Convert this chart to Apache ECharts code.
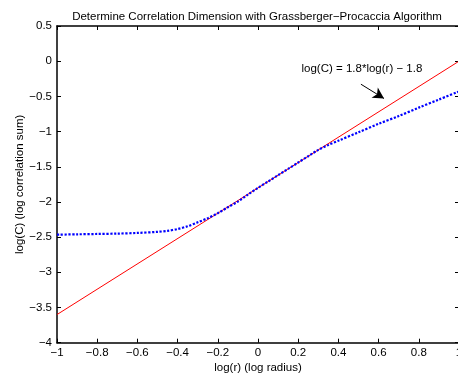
<!DOCTYPE html>
<html>
<head>
<meta charset="utf-8">
<script src="https://cdn.jsdelivr.net/npm/echarts@6/dist/echarts.min.js"></script>
<style>
html,body{margin:0;padding:0;background:#fff;}
#c{width:458px;height:375px;}
</style>
</head>
<body>
<div id="c"></div>
<script>
// ---- data ----
var titleText = 'Determine Correlation Dimension with Grassberger\u2212Procaccia Algorithm';
var xName = 'log(r) (log radius)';
var yName = 'log(C) (log correlation sum)';
var blueX = [-1, -0.9, -0.8, -0.7, -0.6, -0.5, -0.45, -0.4, -0.35, -0.3, -0.25, -0.2, -0.15, -0.1, -0.05, 0, 0.05, 0.1, 0.15, 0.2, 0.25, 0.3, 0.35, 0.4, 0.5, 0.6, 0.7, 0.8, 0.9, 1.0];
var blueY = [-2.465, -2.46, -2.455, -2.45, -2.44, -2.425, -2.41, -2.385, -2.345, -2.29, -2.23, -2.16, -2.075, -1.995, -1.895, -1.80, -1.71, -1.62, -1.53, -1.44, -1.35, -1.26, -1.19, -1.13, -1.01, -0.89, -0.78, -0.66, -0.545, -0.43];
var redX = [-1, 1];
var redY = [-3.6, 0];
var annotText = 'log(C) = 1.8*log(r) \u2212 1.8';
var annotTextPos = [0.517, -0.114];
var arrowFrom = [0.512, -0.327];
var arrowTo = [0.627, -0.53];
var xTicks = {min: -1, max: 1, interval: 0.2};
var yTicks = {min: -4, max: 0.5, interval: 0.5};

function zip(a, b) { return a.map(function (v, i) { return [v, b[i]]; }); }
function fmt(v) {
  var s = String(Math.round(v * 10) / 10);
  if (s === '-0') s = '0';
  return s.replace('-', '\u2212');
}

var FONT = 'Liberation Sans, Arial, sans-serif';
var FS = 11.5;
var axisLineStyle = {color: '#000', width: 1.5};
var chart = echarts.init(document.getElementById('c'), null, {renderer: 'canvas'});
chart.setOption({
  animation: false,
  backgroundColor: '#fff',
  title: {
    text: titleText, left: 252, top: 6, textAlign: 'center',
    textStyle: {fontFamily: FONT, fontSize: FS, fontWeight: 'normal', color: '#000'}
  },
  grid: {left: 57, top: 26, width: 402, height: 316.7, containLabel: false, outerBoundsMode: 'none'},
  xAxis: [{
    type: 'value', min: xTicks.min, max: xTicks.max, interval: xTicks.interval,
    position: 'bottom',
    name: xName, nameLocation: 'middle', nameGap: 19, nameMoveOverlap: false,
    nameTextStyle: {fontFamily: FONT, fontSize: FS, color: '#000'},
    axisLine: {show: true, onZero: false, lineStyle: axisLineStyle},
    axisTick: {show: true, inside: true, length: 4, lineStyle: {color: '#000', width: 1}},
    axisLabel: {fontFamily: FONT, fontSize: FS, color: '#000', margin: 4, formatter: fmt, showMaxLabel: true, showMinLabel: true},
    splitLine: {show: false}
  }, {
    type: 'value', min: xTicks.min, max: xTicks.max, interval: xTicks.interval,
    position: 'top',
    axisLine: {show: true, onZero: false, lineStyle: axisLineStyle},
    axisTick: {show: true, inside: true, length: 4, lineStyle: {color: '#000', width: 1}},
    axisLabel: {show: false},
    splitLine: {show: false}
  }],
  yAxis: [{
    type: 'value', min: yTicks.min, max: yTicks.max, interval: yTicks.interval,
    position: 'left',
    name: yName, nameLocation: 'middle', nameGap: 31, nameRotate: 90, nameMoveOverlap: false,
    nameTextStyle: {fontFamily: FONT, fontSize: FS, color: '#000'},
    axisLine: {show: true, onZero: false, lineStyle: axisLineStyle},
    axisTick: {show: true, inside: true, length: 4, lineStyle: {color: '#000', width: 1}},
    axisLabel: {fontFamily: FONT, fontSize: FS, color: '#000', margin: 5, formatter: fmt},
    splitLine: {show: false}
  }, {
    type: 'value', min: yTicks.min, max: yTicks.max, interval: yTicks.interval,
    position: 'right',
    axisLine: {show: true, onZero: false, lineStyle: axisLineStyle},
    axisTick: {show: true, inside: true, length: 4, lineStyle: {color: '#000', width: 1}},
    axisLabel: {show: false},
    splitLine: {show: false}
  }],
  series: [{
    type: 'line', data: zip(redX, redY), showSymbol: false, symbol: 'none',
    lineStyle: {color: '#ff0000', width: 1},
    markLine: {
      silent: true, symbol: ['none', 'arrow'], symbolSize: [9, 11],
      lineStyle: {color: '#000', width: 1, type: 'solid'},
      label: {show: false},
      data: [[{coord: arrowFrom}, {coord: arrowTo}]]
    },
    markPoint: {
      silent: true, symbol: 'circle', symbolSize: 1,
      itemStyle: {color: 'rgba(0,0,0,0)'},
      label: {show: true, formatter: annotText, position: 'inside', fontFamily: FONT, fontSize: FS, color: '#000'},
      data: [{coord: annotTextPos}]
    }
  }, {
    type: 'line', data: zip(blueX, blueY), showSymbol: false, symbol: 'none', smooth: 0.3,
    lineStyle: {color: '#0000ff', width: 2.2, type: [2.2, 1.6], cap: 'butt'}
  }]
});
</script>
</body>
</html>
